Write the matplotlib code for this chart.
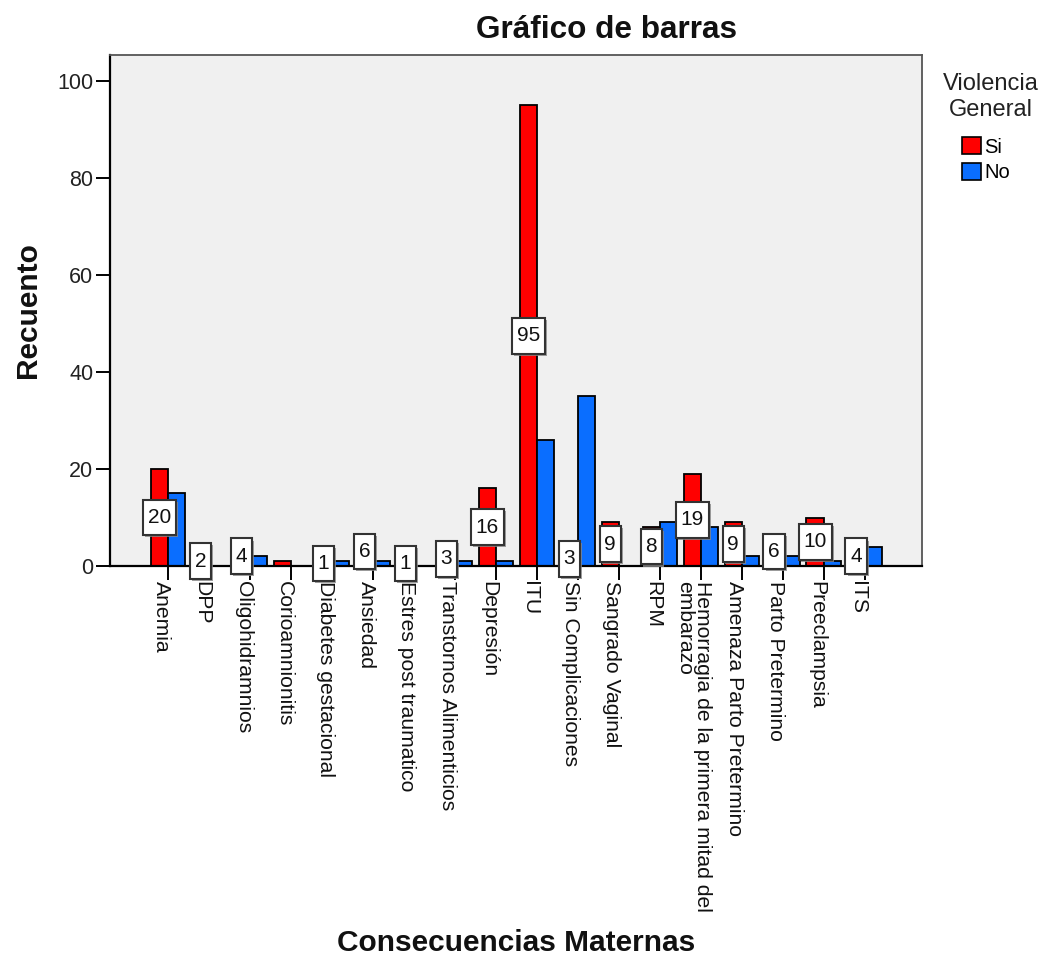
import matplotlib
matplotlib.use("Agg")
import matplotlib.pyplot as plt
import numpy as np
from matplotlib.patches import Patch
from matplotlib.path import Path
from matplotlib.transforms import ScaledTranslation
import matplotlib.patheffects as pe

plt.rcParams['font.family'] = ['Liberation Sans', 'DejaVu Sans']

categorias = ["Anemia", "DPP", "Oligohidramnios", "Corioamnionitis",
              "Diabetes gestacional", "Ansiedad", "Estres post traumatico",
              "Transtornos Alimenticios", "Depresión", "ITU",
              "Sin Complicaciones", "Sangrado Vaginal", "RPM",
              "Hemorragia de la primera mitad del\nembarazo",
              "Amenaza Parto Pretermino", "Parto Pretermino",
              "Preeclampsia", "ITS"]
si = [20, 2, 4, 1, 1, 6, 1, 3, 16, 95, 3, 9, 8, 19, 9, 6, 10, 4]
no = [15, 0, 2, 0, 1, 1, 0, 1, 1, 26, 35, 0, 9, 8, 2, 2, 1, 4]
etiquetas = [20, 2, 4, None, 1, 6, 1, 3, 16, 95, 3, 9, 8, 19, 9, 6, 10, 4]
yticks = [0, 20, 40, 60, 80, 100]

c_si = "#FF0000"
c_no = "#0A6EFF"


def caja(x0, y0, width, height, mutation_size):
    px = 0.23 * mutation_size
    py = 0.40 * mutation_size
    x0, y0 = x0 - px, y0 - py
    x1, y1 = x0 + width + 2 * px, y0 + height + 2 * py
    return Path([(x0, y0), (x1, y0), (x1, y1), (x0, y1), (x0, y0)], closed=True)


fig = plt.figure(figsize=(10.43, 9.56), dpi=100)
ax = fig.add_axes([110/1043, 1-566/956, (922-110)/1043, (566-55)/956])
ax.set_facecolor("#F0F0F0")

x = np.arange(len(categorias))
w = 0.42
ax.bar(x - w/2, si, width=w, color=c_si, edgecolor="black", linewidth=1.3, zorder=2)
ax.bar(x + w/2, no, width=w, color=c_no, edgecolor="black", linewidth=1.3, zorder=2)

for xi, v in zip(x, etiquetas):
    if v is None:
        continue
    t = ax.text(xi - w/2, v/2, str(v), ha="center", va="center", fontsize=15,
                color="#111111", zorder=5,
                bbox=dict(boxstyle=caja, facecolor="white",
                          edgecolor="#333333", linewidth=1.5))
    t.get_bbox_patch().set_path_effects([
        pe.SimplePatchShadow(offset=(1.5, -1.5), shadow_rgbFace="#888888", alpha=0.8),
        pe.Normal()])

ax.set_xlim(-1.42, 18.4)
ax.set_ylim(0, 105.4)
ax.tick_params(axis="x", length=10, width=1.4, color="black", pad=1)
ax.tick_params(axis="y", length=10, width=1.4, color="black", pad=2)
ax.set_yticks(yticks)
ax.set_yticklabels([str(v) for v in yticks], fontsize=15.5, color="#222222")
ax.set_xticks(x)
ax.set_xticklabels(categorias, rotation=270, fontsize=15.2, ha="center",
                   va="top", multialignment="left", linespacing=0.95,
                   color="#111111")
desplaza = ScaledTranslation(-7/100, 0, fig.dpi_scale_trans)
for lab in ax.get_xticklabels():
    lab.set_transform(lab.get_transform() + desplaza)

for s in ["top", "right"]:
    ax.spines[s].set_color("#555555")
    ax.spines[s].set_linewidth(1.3)
for s in ["left", "bottom"]:
    ax.spines[s].set_color("black")
    ax.spines[s].set_linewidth(1.6)

fig.text(607/1043, 1-30/956, "Gráfico de barras", ha="center", va="center",
         fontsize=22.7, fontweight="bold", color="#111111")
fig.text(516/1043, 1-943/956, "Consecuencias Maternas", ha="center", va="center",
         fontsize=21.5, fontweight="bold", color="#111111")
fig.text(28/1043, 1-310/956, "Recuento", ha="center", va="center", rotation=90,
         fontsize=21.5, fontweight="bold", color="#111111")

fig.text(991/1043, 1-97/956, "Violencia\nGeneral", ha="center", va="center",
         fontsize=17, color="#222222", linespacing=1.2)
handles = [Patch(facecolor=c_si, edgecolor="black", linewidth=1.2),
           Patch(facecolor=c_no, edgecolor="black", linewidth=1.2)]
fig.legend(handles, ["Si", "No"], loc="upper left",
           bbox_to_anchor=(958/1043, 1-133/956), frameon=False, fontsize=14.5,
           handlelength=0.95, handleheight=0.95, handletextpad=0.15,
           labelspacing=0.3, borderpad=0.2, borderaxespad=0)

fig.savefig("out.png", dpi=100)
